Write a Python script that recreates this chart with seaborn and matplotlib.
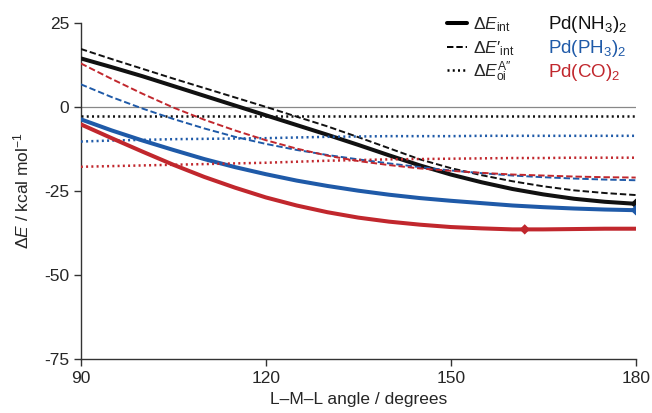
import matplotlib
matplotlib.use("Agg")
import matplotlib.pyplot as plt
import seaborn as sns
import pandas as pd

# angles (degrees) and energies (kcal/mol)
angle = [90, 95, 100, 105, 110, 115, 120, 125, 130, 135,
         140, 145, 150, 155, 160, 165, 170, 175, 180]

nh3_int = [14.4, 11.8, 9.1, 6.2, 3.3, 0.4, -2.5, -5.4, -8.3, -11.3,
           -14.4, -17.4, -20.1, -22.4, -24.4, -26.0, -27.3, -28.2, -28.8]
nh3_intp = [17.2, 14.2, 11.3, 8.4, 5.6, 2.8, 0.0, -2.9, -5.8, -9.0,
            -12.3, -15.6, -18.2, -20.3, -22.1, -23.6, -24.8, -25.6, -26.2]
nh3_oi = [-2.7] * 19

ph3_int = [-3.7, -7.0, -10.0, -12.8, -15.5, -17.9, -20.0, -21.9, -23.5, -24.9,
           -26.1, -27.1, -27.9, -28.6, -29.3, -29.8, -30.2, -30.5, -30.7]
ph3_intp = [6.7, 2.9, -0.5, -3.6, -6.4, -8.9, -11.0, -12.8, -14.3, -15.6,
            -16.8, -17.9, -18.9, -19.7, -20.4, -20.9, -21.3, -21.6, -21.8]
ph3_oi = [-10.3, -10.0, -9.8, -9.6, -9.5, -9.4, -9.3, -9.1, -8.9, -8.8,
          -8.7, -8.7, -8.7, -8.6, -8.6, -8.6, -8.6, -8.6, -8.6]

co_int = [-5.2, -9.3, -13.3, -17.2, -20.8, -24.0, -26.9, -29.3, -31.3, -32.9,
          -34.1, -35.0, -35.7, -36.1, -36.4, -36.4, -36.3, -36.2, -36.2]
co_intp = [12.9, 8.3, 3.9, -0.2, -3.8, -7.0, -9.9, -12.4, -14.5, -16.1,
           -17.3, -18.3, -19.0, -19.6, -20.1, -20.4, -20.7, -20.9, -21.0]
co_oi = [-17.8, -17.6, -17.4, -17.2, -17.0, -16.8, -16.6, -16.3, -16.0, -15.8,
         -15.6, -15.5, -15.4, -15.3, -15.2, -15.2, -15.1, -15.1, -15.1]

# minima of the interaction energy
min_complex = ["Pd(NH$_3$)$_2$", "Pd(PH$_3$)$_2$", "Pd(CO)$_2$"]
min_angle = [180, 180, 162]
min_energy = [-28.8, -30.7, -36.4]

complexes = ["Pd(NH$_3$)$_2$", "Pd(PH$_3$)$_2$", "Pd(CO)$_2$"]
terms = ["int", "intp", "oi"]
term_labels = [r"$\Delta\mathit{E}_{\mathrm{int}}$",
               "$\\Delta\\mathit{E}\u2032_{\\mathrm{int}}$",
               "$\\Delta\\mathit{E}_{\\mathrm{oi}}^{\\mathrm{A}\u2033}$"]
colors = {complexes[0]: "#111111", complexes[1]: "#1f5aa8", complexes[2]: "#c1272d"}

series = {
    (complexes[0], "int"): nh3_int, (complexes[0], "intp"): nh3_intp, (complexes[0], "oi"): nh3_oi,
    (complexes[1], "int"): ph3_int, (complexes[1], "intp"): ph3_intp, (complexes[1], "oi"): ph3_oi,
    (complexes[2], "int"): co_int, (complexes[2], "intp"): co_intp, (complexes[2], "oi"): co_oi,
}
rows = []
for (cpx, term), vals in series.items():
    for a, v in zip(angle, vals):
        rows.append({"angle": a, "E": v, "complex": cpx, "term": term})
df = pd.DataFrame(rows)
df_min = pd.DataFrame({"angle": min_angle, "E": min_energy, "complex": min_complex})

sns.set_style("ticks")
plt.rcParams["font.family"] = ["Liberation Sans", "DejaVu Sans"]
plt.rcParams["mathtext.fontset"] = "custom"
plt.rcParams["mathtext.rm"] = "Liberation Sans"
plt.rcParams["mathtext.it"] = "Liberation Sans:italic"
plt.rcParams["font.size"] = 12.5
plt.rcParams["lines.solid_joinstyle"] = "round"
plt.rcParams["lines.dash_joinstyle"] = "round"

fig, ax = plt.subplots(figsize=(6.52, 4.13), dpi=100)
fig.subplots_adjust(left=0.124, right=0.975, top=0.945, bottom=0.130)

ax.axhline(0, color="#888888", lw=0.9, zorder=1)

dashes = {"int": "", "intp": (3.3, 1.5), "oi": (0.8, 1.3)}
sizes = {"int": 2.9, "intp": 1.4, "oi": 1.8}
sns.lineplot(data=df, x="angle", y="E", hue="complex", style="term", size="term",
             palette=colors, dashes=dashes, sizes=sizes, hue_order=complexes,
             style_order=terms, size_order=terms, legend=False, ax=ax, zorder=3)
sns.scatterplot(data=df_min, x="angle", y="E", hue="complex", palette=colors,
                marker="D", s=28, linewidth=0, legend=False, ax=ax, zorder=4)

ax.set_xlim(90, 180)
ax.set_ylim(-75, 25)
ax.set_xticks([90, 120, 150, 180])
ax.set_yticks([-75, -50, -25, 0, 25])
ax.set_yticklabels(["-75", "-50", "-25", "0", "25"])
ax.set_xlabel("L\u2013M\u2013L angle / degrees", labelpad=4)
ax.set_ylabel(r"$\Delta\mathit{E}$ / kcal mol$^{-1}$", labelpad=9)
for s in ["top", "right"]:
    ax.spines[s].set_visible(False)
for s in ["left", "bottom"]:
    ax.spines[s].set_color("#333333")
    ax.spines[s].set_linewidth(1.0)
ax.tick_params(direction="out", length=5, width=1.0, color="#333333", labelsize=12.5)

# hand-made two-column legend
row_line = [0.998, 0.929, 0.860]
row_text = [0.980, 0.910, 0.840]
for i, term in enumerate(terms):
    ax.plot([0.660, 0.696], [row_line[i]] * 2, transform=ax.transAxes, clip_on=False,
            color="black", lw=sizes[term], dashes=dashes[term] if dashes[term] else (None, None))
    ax.text(0.706, row_text[i], term_labels[i], transform=ax.transAxes,
            va="baseline", ha="left", fontsize=12.5)
    ax.text(0.842, row_text[i], complexes[i], transform=ax.transAxes,
            va="baseline", ha="left", fontsize=13.5, color=colors[complexes[i]])

fig.savefig("out.png", dpi=100)
